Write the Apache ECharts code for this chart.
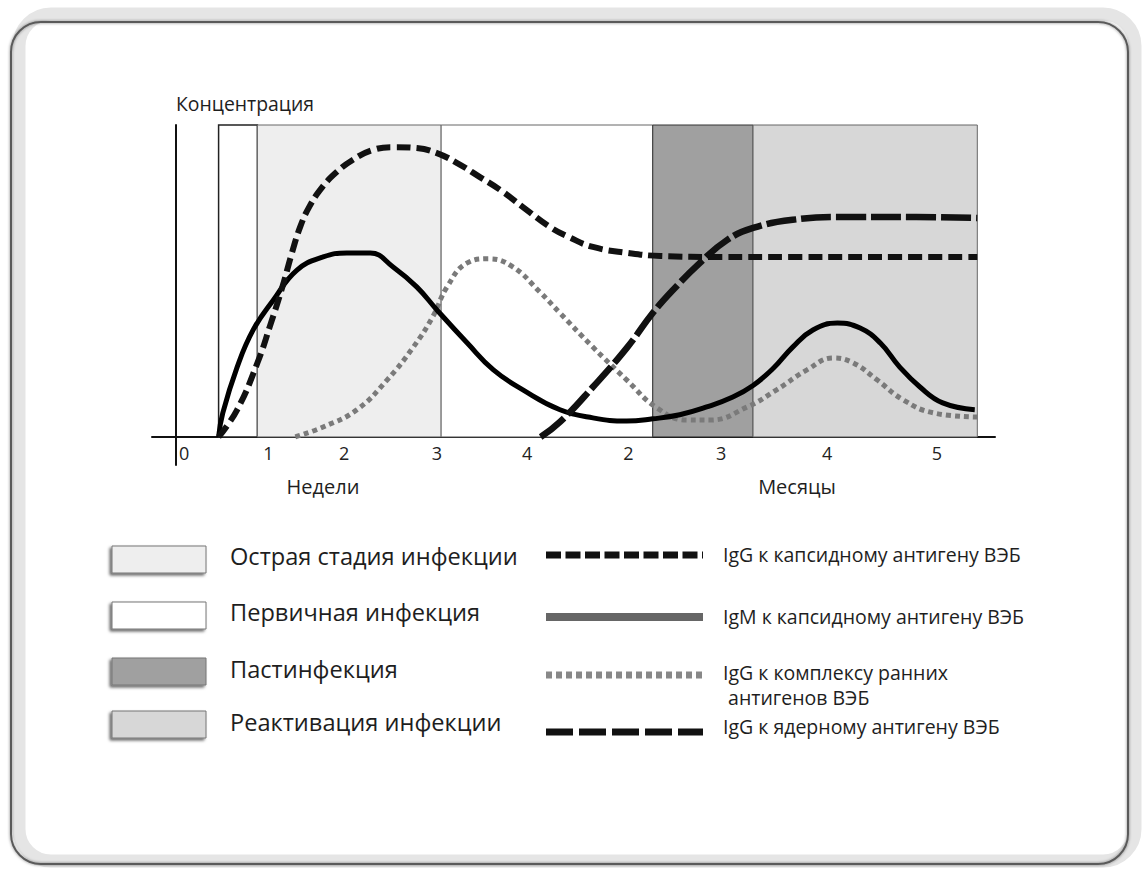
<!DOCTYPE html>
<html><head><meta charset="utf-8">
<script src="https://cdn.jsdelivr.net/npm/echarts@6/dist/echarts.min.js"></script>
<style>html,body{margin:0;padding:0;background:#fff}#c{width:1142px;height:872px}</style>
</head><body><div id="c"></div>
<script>
// ---- tick labels (position along the time axis, abstract 0..100 scale) ----
const weekTicks = [3.8, 13.8, 22.8, 33.8, 44.5];
const weekLabels = ['0', '1', '2', '3', '4'];
const monthTicks = [56.5, 67.5, 80.1, 93.1];
const monthLabels = ['2', '3', '4', '5'];
const unitNames = ['Недели', 'Месяцы'];

// ---- background stages ----
const bandEdges = [7.9, 12.5, 34.3, 59.4, 71.3, 97.9];
const bandStage = [1, 0, 1, 2, 3];
const stageNames = ['Острая стадия инфекции', 'Первичная инфекция', 'Пастинфекция', 'Реактивация инфекции'];
const stageColors = ['#eeeeee', '#ffffff', '#a0a0a0', '#d7d7d7'];

// ---- antibody curves [time, concentration] ----
const seriesNames = ['IgG к капсидному антигену ВЭБ', 'IgM к капсидному антигену ВЭБ', 'IgG к комплексу ранних\n антигенов ВЭБ', 'IgG к ядерному антигену ВЭБ'];
const vcaIgG = [[7.9,0],[10.1,8.7],[12.5,23.7],[14.0,35.6],[15.5,48.4],[16.6,59.0],[17.6,67.5],[18.7,74.0],[20.2,80.1],[21.9,84.9],[23.8,88.8],[26.2,92.0],[28.6,92.9],[31.4,92.6],[33.8,91.0],[36.2,87.8],[38.9,83.3],[41.3,79.2],[44.0,73.7],[47.2,67.3],[49.5,64.0],[52.3,60.9],[56.4,59.0],[60.3,58.0],[67.4,57.7],[76.9,57.7],[88.7,57.7],[97.9,57.7]];
const vcaIgM = [[7.9,0],[8.4,7.7],[10.1,22.4],[12.0,34.3],[14.4,43.9],[17.2,53.5],[20.3,57.7],[23.1,59.0],[25.9,59.0],[28.6,54.5],[31.4,48.1],[33.8,40.7],[37.4,30.1],[40.5,21.5],[44.0,15.1],[48.4,8.7],[52.3,6.1],[56.3,5.1],[59.4,5.8],[62.6,7.1],[65.8,9.6],[68.9,12.8],[71.3,16.5],[73.7,22.0],[76.0,28.8],[78.4,34.3],[81.3,36.5],[84.0,34.9],[86.4,30.1],[88.7,22.4],[91.1,16.0],[93.8,10.9],[97.6,8.7]];
const eaIgG = [[17.0,0],[20.3,3.2],[24.3,8.7],[27.9,18.3],[31.0,28.8],[33.3,38.5],[35.0,48.1],[37.4,55.8],[39.9,57.1],[42.8,54.5],[46.0,46.5],[48.4,39.7],[52.3,28.8],[56.3,18.3],[59.9,9.3],[63.5,5.4],[66.2,5.4],[70.6,9.6],[74.1,15.1],[77.7,21.5],[80.8,25.3],[83.2,23.7],[86.0,18.3],[89.1,11.9],[92.7,7.7],[97.9,6.4]];
const ebnaIgG = [[46.1,0],[48.4,4.8],[52.3,16.0],[56.4,28.8],[59.4,39.7],[61.8,47.1],[65.0,55.8],[68.2,63.1],[71.3,67.0],[76.0,69.6],[82.0,70.5],[88.7,70.5],[97.9,70.2]];

const FONT = "'Open Sans', 'Noto Sans', sans-serif";
const tickVals = weekTicks.concat(monthTicks);
const tickLabels = weekLabels.concat(monthLabels);

const chart = echarts.init(document.getElementById('c'), null, {renderer: 'svg'});

const bandData = bandStage.map((s, i) => [
  {xAxis: bandEdges[i], yAxis: 0, itemStyle: {color: stageColors[s], borderColor: s === 2 ? '#333' : (i === 0 ? '#222' : '#666'), borderWidth: i === 0 ? 1.5 : 1}},
  {xAxis: bandEdges[i + 1], yAxis: 100}
]);

function curve(name, data, color, width, dash, z) {
  return {
    name: name, type: 'line', data: data, smooth: 0.45, symbol: 'none', showSymbol: false,
    z: z, silent: true,
    lineStyle: {color: color, width: width, type: dash || 'solid', cap: 'butt', join: 'round'}
  };
}

// ---- legend graphics (layout only) ----
const boxTops = [546, 602, 658, 711];
const stageTextY = [556, 612, 669, 722];
const lineY = [555, 617, 675, 732];
const lineText = [554, 616, 672, 726];
const lineStyles = [
  {stroke: '#111', lineWidth: 7, lineDash: [15, 4.5]},
  {stroke: '#666', lineWidth: 8},
  {stroke: '#888', lineWidth: 7, lineDash: [6, 4]},
  {stroke: '#111', lineWidth: 7, lineDash: [27, 6]}
];
const legendFont = '19.5px ' + FONT;
const graphics = [];
// frame
graphics.push({type: 'rect', z: -10, silent: true, shape: {x: 19, y: 14, width: 1116, height: 847, r: 32}, style: {fill: 'none', stroke: '#e5e5e5', lineWidth: 13}});
graphics.push({type: 'rect', z: -9, silent: true, shape: {x: 11, y: 22, width: 1117, height: 842, r: 30}, style: {fill: 'none', stroke: '#5a5a5a', lineWidth: 2, shadowBlur: 3, shadowColor: 'rgba(0,0,0,0.5)'}});
stageNames.forEach((n, i) => {
  graphics.push({type: 'rect', shape: {x: 112, y: boxTops[i], width: 94, height: 27}, style: {fill: stageColors[i], stroke: '#777', lineWidth: 1, shadowBlur: 3, shadowOffsetX: -2, shadowOffsetY: 2, shadowColor: 'rgba(0,0,0,0.6)'}});
  graphics.push({type: 'text', x: 230, y: stageTextY[i], style: {text: n, font: '23.6px ' + FONT, fill: '#1e1e1e', verticalAlign: 'middle', align: 'left'}});
});
seriesNames.forEach((n, i) => {
  graphics.push({type: 'line', shape: {x1: 546, y1: lineY[i], x2: 703, y2: lineY[i]}, style: lineStyles[i]});
});
graphics.push({type: 'text', x: 723, y: lineText[0], style: {text: seriesNames[0], font: legendFont, fill: '#1e1e1e', verticalAlign: 'middle'}});
graphics.push({type: 'text', x: 723, y: lineText[1], style: {text: seriesNames[1], font: legendFont, fill: '#1e1e1e', verticalAlign: 'middle'}});
graphics.push({type: 'text', x: 723, y: lineText[2], style: {text: seriesNames[2].split('\n')[0], font: legendFont, fill: '#1e1e1e', verticalAlign: 'middle'}});
graphics.push({type: 'text', x: 723, y: 697, style: {text: seriesNames[2].split('\n')[1], font: legendFont, fill: '#1e1e1e', verticalAlign: 'middle'}});
graphics.push({type: 'text', x: 723, y: lineText[3], style: {text: seriesNames[3], font: legendFont, fill: '#1e1e1e', verticalAlign: 'middle'}});
// axis unit names
graphics.push({type: 'text', x: 323, y: 486, style: {text: unitNames[0], font: '20px ' + FONT, fill: '#1e1e1e', align: 'center', verticalAlign: 'middle'}});
graphics.push({type: 'text', x: 797, y: 486, style: {text: unitNames[1], font: '20px ' + FONT, fill: '#1e1e1e', align: 'center', verticalAlign: 'middle'}});

chart.setOption({
  animation: false,
  backgroundColor: '#fff',
  grid: {left: 152, right: 147, top: 125, bottom: 407},
  xAxis: {
    type: 'value', min: 0, max: 100, offset: -28,
    axisLine: {show: true, onZero: false, lineStyle: {color: '#111', width: 2}},
    axisTick: {show: false}, splitLine: {show: false},
    axisLabel: {show: true, customValues: tickVals, formatter: v => tickLabels[tickVals.indexOf(v)], margin: 7, fontSize: 18, color: '#222', fontFamily: FONT}
  },
  yAxis: {
    type: 'value', min: -9, max: 100, offset: -24,
    axisLine: {show: true, onZero: false, lineStyle: {color: '#111', width: 2}},
    axisTick: {show: false}, axisLabel: {show: false}, splitLine: {show: false},
    name: 'Концентрация', nameLocation: 'end', nameGap: 12,
    nameTextStyle: {align: 'left', fontSize: 19.4, color: '#1e1e1e', fontFamily: FONT}
  },
  graphic: graphics,
  series: [
    {type: 'line', data: [], z: 1, silent: true, markArea: {silent: true, data: bandData}},
    curve(seriesNames[2], eaIgG, '#7a7a7a', 5, [5, 4], 3),
    curve(seriesNames[1], vcaIgM, '#000', 5, null, 4),
    curve(seriesNames[0], vcaIgG, '#111', 6, [14, 6], 5),
    curve(seriesNames[3], ebnaIgG, '#111', 6.5, [30, 5], 6)
  ]
});
</script></body></html>
